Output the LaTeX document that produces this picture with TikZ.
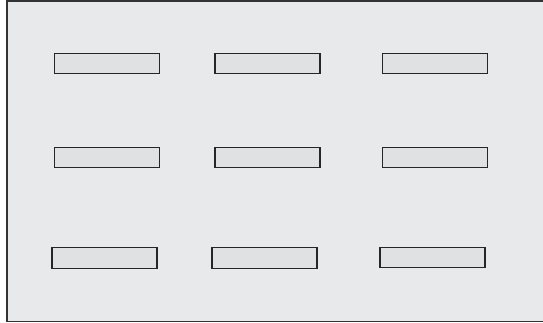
\documentclass[tikz,border=0pt]{standalone}
\begin{document}
\begin{tikzpicture}[x=1pt,y=-1pt,
  slot/.style={draw=black!85,line width=1.2pt,fill=boxfill,minimum width=105pt,minimum height=20.5pt,inner sep=0pt,outer sep=0pt}]
\definecolor{bgfill}{HTML}{E8E9EB}
\definecolor{boxfill}{HTML}{E0E1E3}
\useasboundingbox (0,0) rectangle (543,323);
\fill[white] (0,0) rectangle (543,323);
\fill[bgfill] (7,1) rectangle (543,321.5);
\draw[black!80,line width=1.6pt] (543,1) -- (7,1) -- (7,321.5) -- (543,321.5);
\node[slot] (a1) at (107,63.5) {};
\node[slot] (a2) at (267.5,63.5) {};
\node[slot] (a3) at (435,63.5) {};
\node[slot] (b1) at (107,157.5) {};
\node[slot] (b2) at (267.5,157.5) {};
\node[slot] (b3) at (435,157.5) {};
\node[slot] (c1) at (104.5,258) {};
\node[slot] (c2) at (264.5,258) {};
\node[slot] (c3) at (432.5,257.5) {};
\end{tikzpicture}
\end{document}
